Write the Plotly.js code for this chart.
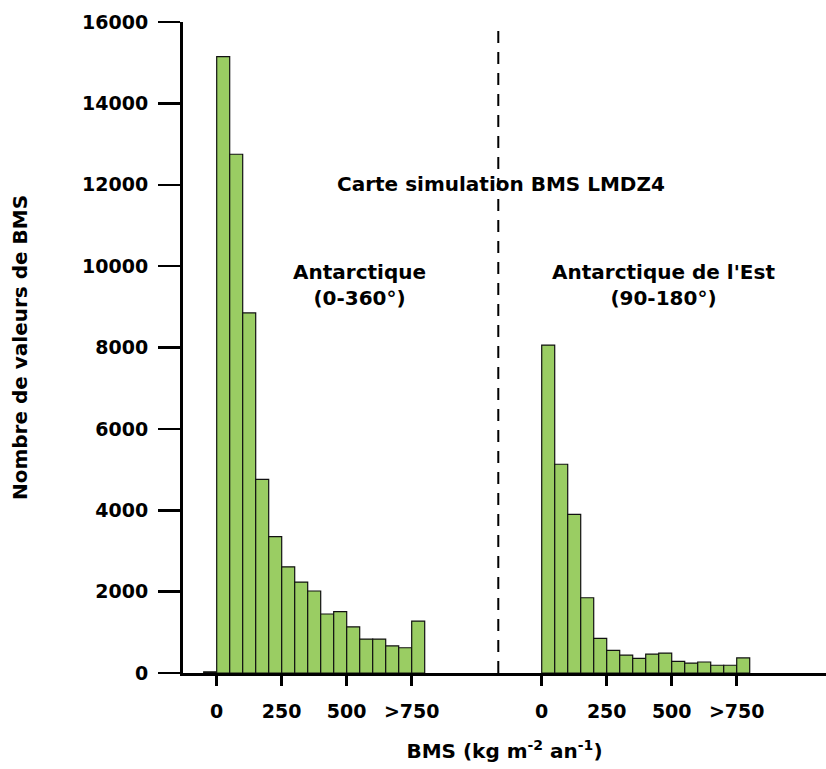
<!DOCTYPE html>
<html>
<head>
<meta charset="utf-8">
<script src="https://cdn.plot.ly/plotly-3.0.1.min.js"></script>
<style>
  html, body { margin: 0; padding: 0; background: #fff; }
  #chart { width: 826px; height: 769px; }
</style>
</head>
<body>
<div id="chart"></div>
<script>
// ---- Data ----
// Lower edge of each BMS bin (kg m-2 an-1); last bin is ">750"
const leftBins = [-50, 0, 50, 100, 150, 200, 250, 300, 350, 400, 450, 500, 550, 600, 650, 700, 750];
const leftCounts = [30, 15150, 12750, 8850, 4760, 3350, 2610, 2235, 2015, 1450, 1510, 1135, 835, 835, 665, 620, 1275];

const rightBins = [0, 50, 100, 150, 200, 250, 300, 350, 400, 450, 500, 550, 600, 650, 700, 750];
const rightCounts = [8060, 5130, 3900, 1850, 850, 555, 440, 360, 465, 490, 285, 245, 270, 190, 190, 370];

const tickValues = [0, 250, 500, 750];
const tickLabels = ['0', '250', '500', '>750'];

const leftLabel = 'Antarctique<br>(0-360°)';
const rightLabel = "Antarctique de l'Est<br>(90-180°)";
const mainLabel = 'Carte simulation BMS LMDZ4';

// ---- Layout helpers ----
const BIN_WIDTH = 50;
const PANEL_OFFSET = 1250;   // horizontal shift of the second panel on the shared axis
const SEPARATOR_X = 1083;

const FONT = '"DejaVu Sans", "Liberation Sans", Arial, sans-serif';
const GREEN = '#9acd63';

function barTrace(bins, counts, offset) {
  return {
    type: 'bar',
    x: bins.map(b => b + offset + BIN_WIDTH / 2),
    y: counts,
    width: bins.map(() => BIN_WIDTH),
    marker: { color: GREEN, line: { color: '#111', width: 1.2 } },
    hoverinfo: 'y',
    showlegend: false
  };
}

const traces = [
  barTrace(leftBins, leftCounts, 0),
  barTrace(rightBins, rightCounts, PANEL_OFFSET)
];

const allTickVals = tickValues.concat(tickValues.map(v => v + PANEL_OFFSET));
const allTickText = tickLabels.concat(tickLabels);

const layout = {
  width: 826,
  height: 769,
  margin: { l: 183, r: 0, t: 22, b: 96, pad: 0 },
  paper_bgcolor: '#fff',
  plot_bgcolor: '#fff',
  font: { family: FONT, size: 19, color: '#000', weight: 'bold' },
  bargap: 0,
  xaxis: {
    range: [-129.6, 2343.4],
    showgrid: false,
    zeroline: false,
    showline: true,
    linecolor: '#000',
    linewidth: 3,
    ticks: 'outside',
    ticklen: 10,
    tickwidth: 3,
    tickcolor: '#000',
    tickvals: allTickVals,
    ticktext: allTickText,
    ticklabelstandoff: 9,
    tickfont: { family: FONT, size: 19, weight: 'bold', color: '#000' },
    title: {
      text: 'BMS (kg m<sup>-2</sup> an<sup>-1</sup>)',
      font: { family: FONT, size: 20, weight: 'bold', color: '#000' },
      standoff: 24
    },
    fixedrange: true
  },
  yaxis: {
    range: [0, 16000],
    showgrid: false,
    zeroline: false,
    showline: true,
    linecolor: '#000',
    linewidth: 3,
    ticks: 'outside',
    ticklen: 22,
    tickwidth: 2.5,
    tickcolor: '#000',
    tickvals: [0, 2000, 4000, 6000, 8000, 10000, 12000, 14000, 16000],
    ticktext: ['0', '2000', '4000', '6000', '8000', '10000', '12000', '14000', '16000'],
    ticklabelstandoff: 6,
    tickfont: { family: FONT, size: 19, weight: 'bold', color: '#000' },
    title: {
      text: 'Nombre de valeurs de BMS',
      font: { family: FONT, size: 20, weight: 'bold', color: '#000' },
      standoff: 50
    },
    fixedrange: true
  },
  shapes: [{
    type: 'line',
    xref: 'x', yref: 'paper',
    x0: SEPARATOR_X, x1: SEPARATOR_X,
    y0: 0, y1: 0.987,
    line: { color: '#000', width: 2, dash: '12px,9px' }
  }],
  annotations: [
    {
      xref: 'x', yref: 'y', x: 1093, y: 12015,
      text: mainLabel, showarrow: false,
      font: { family: FONT, size: 20, weight: 'bold', color: '#000' }
    },
    {
      xref: 'x', yref: 'y', x: 551, y: 9535,
      text: leftLabel, showarrow: false, align: 'center',
      font: { family: FONT, size: 20, weight: 'bold', color: '#000' }
    },
    {
      xref: 'x', yref: 'y', x: 1717, y: 9535,
      text: rightLabel, showarrow: false, align: 'center',
      font: { family: FONT, size: 20, weight: 'bold', color: '#000' }
    }
  ]
};

Plotly.newPlot('chart', traces, layout, { staticPlot: true, displayModeBar: false });
</script>
</body>
</html>
